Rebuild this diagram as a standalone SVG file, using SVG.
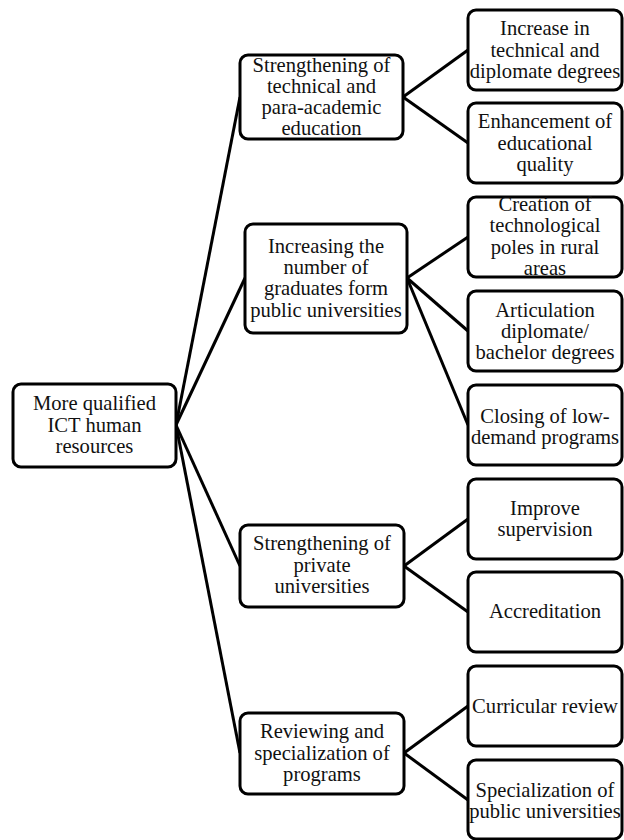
<svg xmlns="http://www.w3.org/2000/svg" width="624" height="840" viewBox="0 0 624 840">
<style>
rect.box{fill:#fff;stroke:#000;stroke-width:3}
text{font-family:"Liberation Serif","Times New Roman",serif;font-size:20.6px;fill:#111;text-anchor:middle}
#connectors line{stroke:#000;stroke-width:3}
</style>
<rect width="624" height="840" fill="#fff"/>
<g id="connectors">
<line x1="176" y1="425" x2="240" y2="97"/>
<line x1="176" y1="425" x2="245" y2="278"/>
<line x1="176" y1="425" x2="240" y2="566"/>
<line x1="176" y1="425" x2="240" y2="753"/>
<line x1="403" y1="97" x2="468" y2="50"/>
<line x1="403" y1="97" x2="468" y2="143"/>
<line x1="407" y1="278" x2="468" y2="237"/>
<line x1="407" y1="278" x2="468" y2="331"/>
<line x1="407" y1="278" x2="468" y2="425"/>
<line x1="404" y1="566" x2="468" y2="519"/>
<line x1="404" y1="566" x2="468" y2="612"/>
<line x1="404" y1="753" x2="468" y2="706"/>
<line x1="404" y1="753" x2="468" y2="800"/>
</g>
<g id="root"><rect class="box" x="13" y="384" width="163" height="83" rx="8"/>
<text x="94.5" y="410">More qualified</text><text x="94.5" y="432">ICT human</text><text x="94.5" y="453">resources</text></g>
<g id="n1"><rect class="box" x="240" y="55" width="163" height="84" rx="8"/>
<text x="321.5" y="72">Strengthening of</text><text x="321.5" y="93">technical and</text><text x="321.5" y="114">para-academic</text><text x="321.5" y="135">education</text></g>
<g id="n2"><rect class="box" x="245" y="224" width="162" height="109" rx="8"/>
<text x="326" y="253">Increasing the</text><text x="326" y="274">number of</text><text x="326" y="295">graduates form</text><text x="326" y="317">public universities</text></g>
<g id="n3"><rect class="box" x="240" y="525" width="164" height="82" rx="8"/>
<text x="322" y="550">Strengthening of</text><text x="322" y="572">private</text><text x="322" y="593">universities</text></g>
<g id="n4"><rect class="box" x="240" y="713" width="164" height="81" rx="8"/>
<text x="322" y="738">Reviewing and</text><text x="322" y="760">specialization of</text><text x="322" y="781">programs</text></g>
<g id="n1a"><rect class="box" x="468" y="10" width="154" height="80" rx="8"/>
<text x="545" y="35">Increase in</text><text x="545" y="57">technical and</text><text x="545" y="78">diplomate degrees</text></g>
<g id="n1b"><rect class="box" x="468" y="103" width="154" height="80" rx="8"/>
<text x="545" y="128">Enhancement of</text><text x="545" y="150">educational</text><text x="545" y="171">quality</text></g>
<g id="n2a"><rect class="box" x="468" y="197" width="154" height="80" rx="8"/>
<text x="545" y="211">Creation of</text><text x="545" y="232">technological</text><text x="545" y="254">poles in rural</text><text x="545" y="275">areas</text></g>
<g id="n2b"><rect class="box" x="468" y="291" width="154" height="80" rx="8"/>
<text x="545" y="317">Articulation</text><text x="545" y="338">diplomate/</text><text x="545" y="359">bachelor degrees</text></g>
<g id="n2c"><rect class="box" x="468" y="385" width="154" height="80" rx="8"/>
<text x="545" y="423">Closing of low-</text><text x="545" y="444">demand programs</text></g>
<g id="n3a"><rect class="box" x="468" y="479" width="154" height="80" rx="8"/>
<text x="545" y="515">Improve</text><text x="545" y="536">supervision</text></g>
<g id="n3b"><rect class="box" x="468" y="572" width="154" height="80" rx="8"/>
<text x="545" y="618">Accreditation</text></g>
<g id="n4a"><rect class="box" x="468" y="666" width="154" height="80" rx="8"/>
<text x="545" y="713">Curricular review</text></g>
<g id="n4b"><rect class="box" x="468" y="760" width="154" height="79" rx="8"/>
<text x="545" y="797">Specialization of</text><text x="545" y="818">public universities</text></g>
</svg>
